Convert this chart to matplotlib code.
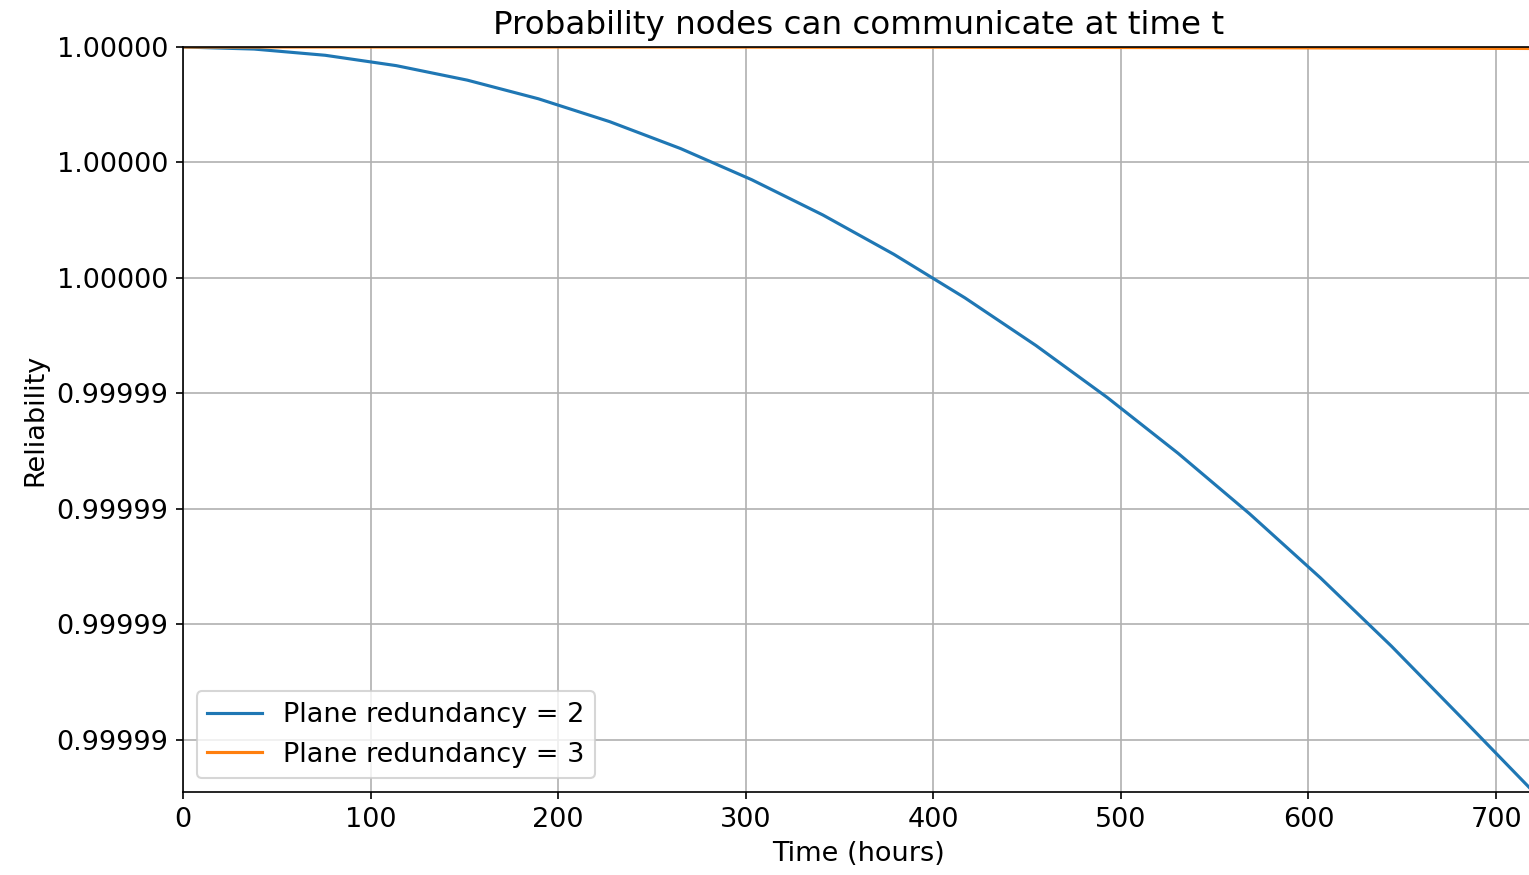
import matplotlib
matplotlib.use("Agg")
import matplotlib.pyplot as plt
from matplotlib.ticker import FormatStrFormatter, MultipleLocator

# time samples (hours), 20 points over a 30-day mission
hours = [0.0, 37.89, 75.79, 113.68, 151.58, 189.47, 227.37, 265.26, 303.16, 341.05,
         378.95, 416.84, 454.74, 492.63, 530.53, 568.42, 606.32, 644.21, 682.11, 720.0]

# reliability, plane redundancy = 2
rel_red2 = [1.0, 0.9999999641, 0.9999998564, 0.9999996770, 0.9999994256,
            0.9999991030, 0.9999987080, 0.9999982410, 0.9999977020, 0.9999970920,
            0.9999964100, 0.9999956560, 0.9999948300, 0.9999939330, 0.9999929630,
            0.9999919220, 0.9999908090, 0.9999896250, 0.9999883680, 0.9999871000]

# reliability, plane redundancy = 3
rel_red3 = [1.0, 0.999999999996, 0.99999999997, 0.999999999897, 0.999999999756,
            0.999999999524, 0.99999999918, 0.99999999869, 0.99999999805, 0.99999999722,
            0.99999999619, 0.99999999493, 0.99999999342, 0.99999999163, 0.99999998955,
            0.99999998714, 0.9999999844, 0.9999999813, 0.9999999778, 0.9999999739]

labels = ["Plane redundancy = 2", "Plane redundancy = 3"]

plt.rcParams["font.size"] = 13

fig = plt.figure(figsize=(1529 / 150, 875 / 150), dpi=150)
ax = fig.add_axes([0.1197, 0.0949, 0.8833, 0.8514])

ax.plot(hours, rel_red2, label=labels[0])
ax.plot(hours, rel_red3, label=labels[1])

ax.set_xlim(0, 720)
ax.set_ylim(min(rel_red2), 1.0)
ax.yaxis.set_major_locator(MultipleLocator(2e-6))
ax.yaxis.set_major_formatter(FormatStrFormatter("%.5f"))

ax.set_title("Probability nodes can communicate at time t")
ax.set_xlabel("Time (hours)")
ax.set_ylabel("Reliability")
ax.legend(loc="lower left")
ax.grid(True)

fig.savefig("out.png", dpi=150)
